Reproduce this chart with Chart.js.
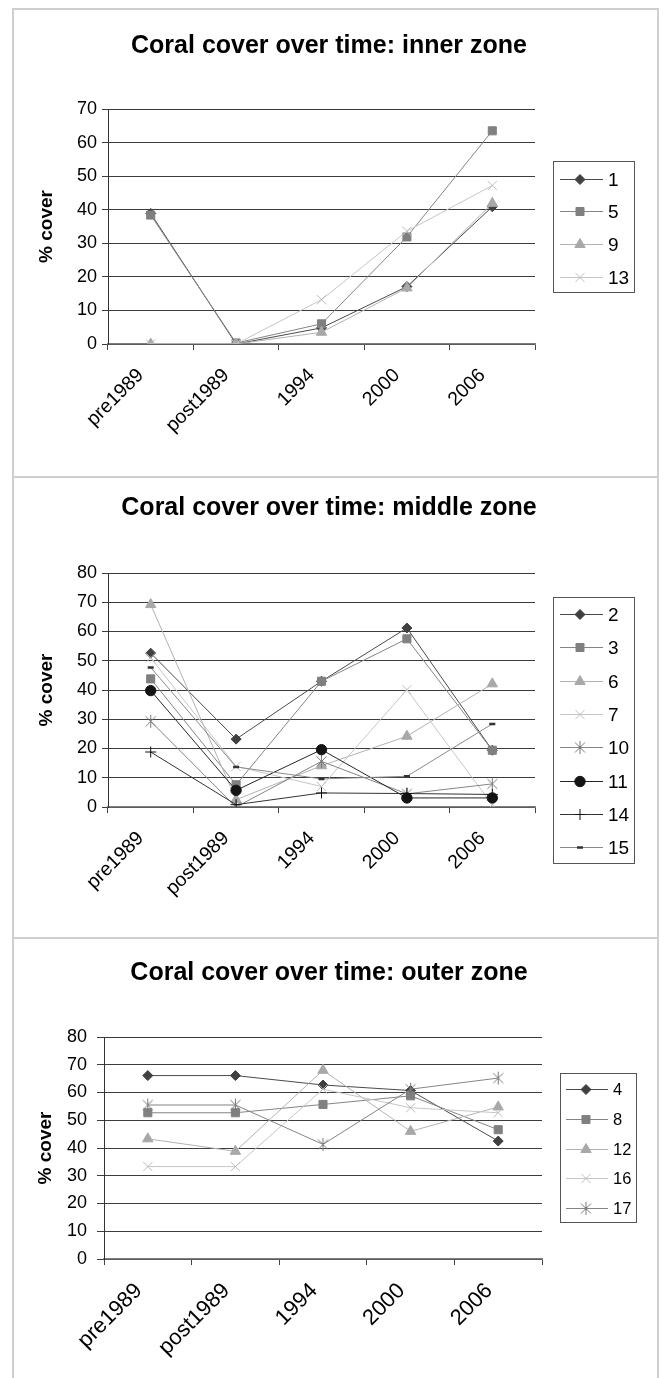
<!DOCTYPE html>
<html>
<head>
<meta charset="utf-8">
<script src="https://cdn.jsdelivr.net/npm/chart.js@4.4.1/dist/chart.umd.min.js"></script>
<style>
  body { margin: 0; background: #fff; width: 665px; height: 1378px; position: relative; overflow: hidden; }
  .frame { position: absolute; border: 2px solid #cfcfcf; box-sizing: border-box; }
  canvas { position: absolute; }
</style>
</head>
<body>
<div class="frame" style="left:12px;top:8px;width:647px;height:470px"></div>
<div class="frame" style="left:12px;top:476px;width:647px;height:463px"></div>
<div class="frame" style="left:12px;top:937px;width:647px;height:460px"></div>
<canvas id="innerChart" width="645" height="468" style="left:13px;top:9px"></canvas>
<canvas id="middleChart" width="645" height="461" style="left:13px;top:477px"></canvas>
<canvas id="outerChart" width="645" height="440" style="left:13px;top:938px"></canvas>
<script>
  const FONT = '"Liberation Sans", Arial, sans-serif';

  const categories = ["pre1989", "post1989", "1994", "2000", "2006"];

  // inner zone
  const innerSites = ["1", "5", "9", "13"];
  const inner1 = [38.9, 0, 4.8, 17.1, 40.9];
  const inner5 = [38.4, 0.3, 6.0, 31.9, 63.5];
  const inner9 = [0, 0, 3.5, 16.7, 41.9];
  const inner13 = [0, 0, 13.2, 33.6, 47.2];

  // middle zone
  const middleSites = ["2", "3", "6", "7", "10", "11", "14", "15"];
  const middle2 = [52.6, 23.2, 43.0, 61.2, 19.4];
  const middle3 = [43.8, 7.6, 43.0, 57.5, 19.4];
  const middle6 = [69.2, 2.5, 14.1, 24.2, 42.1];
  const middle7 = [51.0, 13.9, 7.0, 40.1, 0.8];
  const middle10 = [29.3, 0, 15.6, 4.5, 7.9];
  const middle11 = [39.8, 5.7, 19.6, 3.1, 3.1];
  const middle14 = [18.8, 0.8, 4.8, 4.6, 4.3];
  const middle15 = [47.7, 13.7, 9.6, 10.5, 28.4];

  // outer zone
  const outerSites = ["4", "8", "12", "16", "17"];
  const outer4 = [66.1, 66.1, 62.7, 60.7, 42.5];
  const outer8 = [52.7, 52.7, 55.7, 58.8, 46.6];
  const outer12 = [43.3, 38.8, 68.0, 46.0, 54.8];
  const outer16 = [33.3, 33.3, 61.2, 54.5, 52.7];
  const outer17 = [55.5, 55.5, 41.3, 61.2, 65.2];

  // excel-ish asterisk marker (x plus vertical bar)
  function asterisk(color) {
    const c = document.createElement("canvas");
    c.width = 15; c.height = 15;
    const g = c.getContext("2d");
    g.strokeStyle = color; g.lineWidth = 1;
    g.beginPath();
    g.moveTo(2.5, 2.5); g.lineTo(12.5, 12.5);
    g.moveTo(12.5, 2.5); g.lineTo(2.5, 12.5);
    g.moveTo(7.5, 1); g.lineTo(7.5, 14);
    g.stroke();
    return c;
  }

  const markerStyles = [
    { shape: "rectRot", r: 5, fill: "#404040", stroke: "#404040", line: "#4a4a4a" },
    { shape: "rect", r: 5.7, fill: "#808080", stroke: "#808080", line: "#858585" },
    { shape: "triangle", r: 6, fill: "#a8a8a8", stroke: "#a8a8a8", line: "#b2b2b2" },
    { shape: "crossRot", r: 6.5, fill: "#c0c0c0", stroke: "#bdbdbd", line: "#c6c6c6" },
    { shape: asterisk("#7a7a7a"), r: 7, fill: "#7a7a7a", stroke: "#7a7a7a", line: "#858585" },
    { shape: "circle", r: 5.2, fill: "#141414", stroke: "#141414", line: "#262626" },
    { shape: "cross", r: 5.5, fill: "#111", stroke: "#111", line: "#333" },
    { shape: "line", r: 3, fill: "#333", stroke: "#333", line: "#8a8a8a", bw: 2.5 },
  ];

  function buildDatasets(sites, values) {
    return sites.map((s, i) => {
      const st = markerStyles[i];
      return {
        label: s,
        data: values[i],
        borderColor: st.line,
        borderWidth: 1,
        pointStyle: st.shape,
        pointRadius: st.r,
        pointBackgroundColor: st.fill,
        pointBorderColor: st.stroke,
        pointBorderWidth: st.bw || 1,
        tension: 0,
        fill: false,
        order: sites.length - i,
      };
    });
  }

  const titleText = {
    id: "titleText",
    afterDraw(chart, args, o) {
      const ctx = chart.ctx;
      ctx.save();
      ctx.font = "bold 25px " + FONT;
      ctx.fillStyle = "#000";
      ctx.textAlign = "center";
      ctx.textBaseline = "alphabetic";
      ctx.fillText(o.text, o.x, o.y);
      ctx.restore();
    },
  };

  // excel style legend box: line sample + marker + label
  const legendBox = {
    id: "legendBox",
    afterDraw(chart, args, o) {
      const ctx = chart.ctx;
      ctx.save();
      ctx.strokeStyle = "#555";
      ctx.lineWidth = 1;
      ctx.strokeRect(o.x + 0.5, o.y + 0.5, o.w, o.h);
      chart.data.datasets.forEach((ds, i) => {
        const cy = Math.round(o.y + o.first + i * o.row) + 0.5;
        ctx.strokeStyle = ds.borderColor;
        ctx.lineWidth = 1;
        ctx.beginPath();
        ctx.moveTo(o.x + o.l0, cy);
        ctx.lineTo(o.x + o.l1, cy);
        ctx.stroke();
        ctx.fillStyle = ds.pointBackgroundColor;
        ctx.strokeStyle = ds.pointBorderColor;
        ctx.lineWidth = ds.pointBorderWidth;
        Chart.helpers.drawPoint(ctx, {
          pointStyle: ds.pointStyle, radius: ds.pointRadius, rotation: 0, borderWidth: ds.pointBorderWidth,
        }, o.x + o.mx, cy);
        ctx.fillStyle = "#000";
        ctx.font = o.fontSize + "px " + FONT;
        ctx.textAlign = "left";
        ctx.textBaseline = "middle";
        ctx.fillText(ds.label, o.x + o.tx, cy + 1);
      });
      ctx.restore();
    },
  };

  function zoneChart(id, cfg) {
    const ctx = document.getElementById(id).getContext("2d");
    return new Chart(ctx, {
      type: "line",
      data: { labels: categories, datasets: buildDatasets(cfg.sites, cfg.values) },
      options: {
        responsive: false,
        animation: false,
        devicePixelRatio: 1,
        layout: { padding: { top: cfg.top, right: cfg.right, left: 0, bottom: 0 } },
        scales: {
          x: {
            type: "category",
            offset: true,
            afterFit: (s) => { s.height = cfg.xHeight; },
            grid: { drawOnChartArea: false, drawTicks: true, tickLength: 6, color: "#444", offset: true },
            border: { color: "#7d7d7d", width: 1.5 },
            ticks: {
              color: "#000",
              font: { family: FONT, size: cfg.xFont },
              minRotation: 45, maxRotation: 45,
              autoSkip: false,
              padding: cfg.xPad,
              labelOffset: cfg.xShift,
            },
          },
          y: {
            min: 0,
            max: cfg.yMax,
            afterFit: (s) => { s.width = cfg.yWidth; },
            ticks: { stepSize: 10, color: "#000", font: { family: FONT, size: 18 }, padding: cfg.yPad },
            grid: { color: "#3c3c3c", lineWidth: 1, tickLength: cfg.yTick, drawTicks: true },
            border: { color: "#333", width: 1 },
            title: {
              display: true, text: "% cover", color: "#000",
              font: { family: FONT, size: 19, weight: "bold" },
              padding: { top: cfg.titlePad, bottom: 0 },
            },
          },
        },
        plugins: {
          legend: { display: false },
          tooltip: { enabled: false },
          titleText: { text: cfg.title, x: 316, y: cfg.titleY },
          legendBox: cfg.legend,
        },
      },
      plugins: [titleText, legendBox],
    });
  }

  zoneChart("innerChart", {
    title: "Coral cover over time: inner zone",
    titleY: 44,
    sites: innerSites,
    values: [inner1, inner5, inner9, inner13],
    yMax: 70,
    top: 100, right: 123, xHeight: 133, yWidth: 95, yPad: 5, yTick: 6, titlePad: 22.6,
    xFont: 19.5, xPad: 14, xShift: -10,
    legend: { x: 540, y: 152, w: 81, h: 131, first: 17.5, row: 32.8, l0: 7, l1: 50, mx: 27, tx: 55, fontSize: 19 },
  });

  zoneChart("middleChart", {
    title: "Coral cover over time: middle zone",
    titleY: 38,
    sites: middleSites,
    values: [middle2, middle3, middle6, middle7, middle10, middle11, middle14, middle15],
    yMax: 80,
    top: 96, right: 123, xHeight: 131, yWidth: 95, yPad: 5, yTick: 6, titlePad: 22.6,
    xFont: 19.5, xPad: 14, xShift: -10,
    legend: { x: 540, y: 120, w: 81, h: 266, first: 17, row: 33.3, l0: 7, l1: 50, mx: 27, tx: 55, fontSize: 19 },
  });

  zoneChart("outerChart", {
    title: "Coral cover over time: outer zone",
    titleY: 42,
    sites: outerSites,
    values: [outer4, outer8, outer12, outer16, outer17],
    yMax: 80,
    top: 99, right: 116, xHeight: 119, yWidth: 91, yPad: 10, yTick: 7, titlePad: 21,
    xFont: 22, xPad: 13, xShift: -9,
    legend: { x: 547, y: 135, w: 76, h: 149, first: 16, row: 29.8, l0: 6, l1: 48, mx: 26, tx: 53, fontSize: 16.5 },
  });
</script>
</body>
</html>
